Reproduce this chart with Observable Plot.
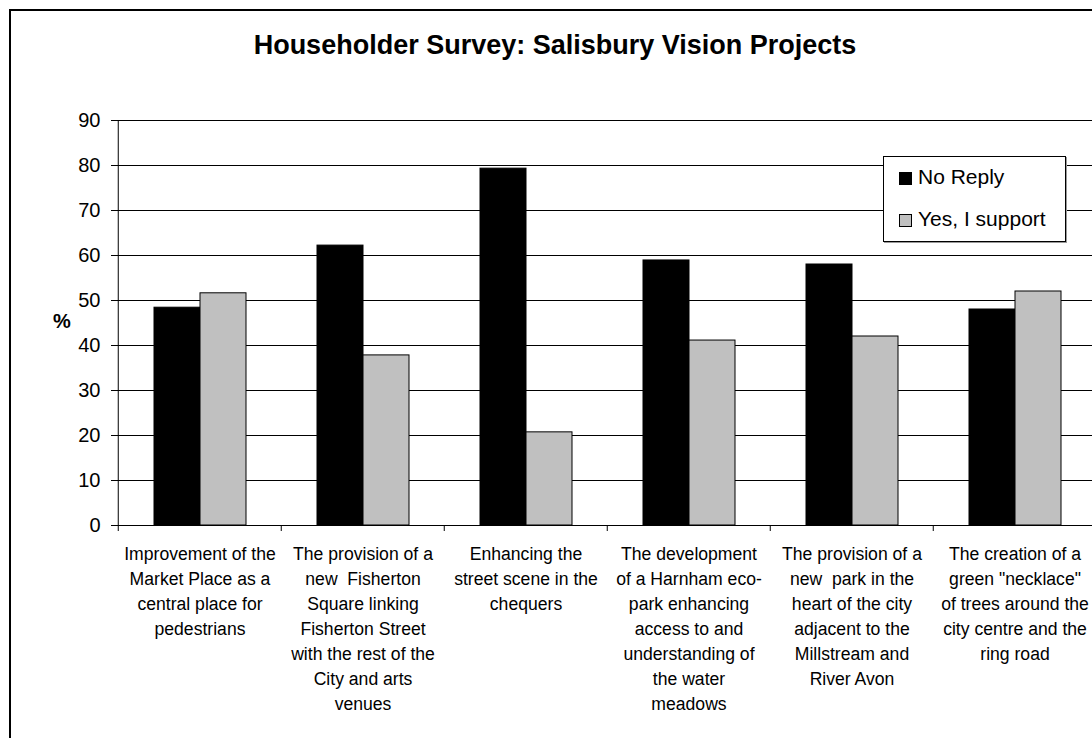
<!DOCTYPE html>
<html>
<head>
<meta charset="utf-8">
<script src="https://cdn.jsdelivr.net/npm/d3@7"></script>
<script src="https://cdn.jsdelivr.net/npm/@observablehq/plot@0.6"></script>
<style>
  html, body { margin: 0; padding: 0; background: #fff; overflow: hidden; }
  #wrap { position: relative; width: 1092px; height: 738px; overflow: hidden; background: #fff;
          font-family: "Liberation Sans", Arial, sans-serif; color: #000; }
  #border { position: absolute; left: 9px; top: 9px; width: 2000px; height: 2000px;
            border-left: 2px solid #000; border-top: 2px solid #000; }
  #title { position: absolute; left: 0; width: 1110px; top: 32px; text-align: center;
           font-weight: bold; font-size: 27px; line-height: 27px; white-space: nowrap; }
  #chart { position: absolute; left: 0; top: 0; }
  #ylabel { position: absolute; left: 53px; top: 308px; font-weight: bold; font-size: 20px; line-height: 26px; }
  #legend { position: absolute; left: 883px; top: 156px; width: 181px; height: 84px;
            border: 1px solid #000; background: #fff; box-shadow: 1px 1px 0 #999; }
  .item { position: absolute; left: 15px; font-size: 21px; line-height: 24px; white-space: nowrap; }
  .sw { display: inline-block; width: 11px; height: 11px; border: 1px solid #000; margin-right: 6px; vertical-align: -1px; }
</style>
</head>
<body>
<div id="wrap">
  <div id="border"></div>
  <div id="title"></div>
  <div id="chart"></div>
  <div id="ylabel"></div>
  <div id="legend"></div>
</div>
<script>
const title = "Householder Survey: Salisbury Vision Projects";
const yLabel = "%";
const categories = [
  "Improvement of the Market Place as a central place for pedestrians",
  "The provision of a new Fisherton Square linking Fisherton Street with the rest of the City and arts venues",
  "Enhancing the street scene in the chequers",
  "The development of a Harnham eco-park enhancing access to and understanding of the water meadows",
  "The provision of a new park in the heart of the city adjacent to the Millstream and River Avon",
  "The creation of a green \"necklace\" of trees around the city centre and the ring road"
];
const tickLabels = [
  "Improvement of the\nMarket Place as a\ncentral place for\npedestrians",
  "The provision of a\nnew  Fisherton\nSquare linking\nFisherton Street\nwith the rest of the\nCity and arts\nvenues",
  "Enhancing the\nstreet scene in the\nchequers",
  "The development\nof a Harnham eco-\npark enhancing\naccess to and\nunderstanding of\nthe water\nmeadows",
  "The provision of a\nnew  park in the\nheart of the city\nadjacent to the\nMillstream and\nRiver Avon",
  "The creation of a\ngreen \"necklace\"\nof trees around the\ncity centre and the\nring road"
];
const series = ["No Reply", "Yes, I support"];
const seriesColors = ["#000000", "#C0C0C0"];
const noReply = [48.4, 62.2, 79.3, 58.9, 58.0, 48.0];
const yesSupport = [51.6, 37.8, 20.7, 41.1, 42.0, 52.0];
const yTicks = [0, 10, 20, 30, 40, 50, 60, 70, 80, 90];

const rows = [];
categories.forEach((c, i) => {
  rows.push({category: c, series: series[0], value: noReply[i]});
  rows.push({category: c, series: series[1], value: yesSupport[i]});
});
const labelOf = new Map(categories.map((c, i) => [c, tickLabels[i]]));

const W = 1100, H = 738, ML = 116, MR = 3, MT = 120, MB = 213;
const step = (W - ML - MR) / categories.length;

const plot = Plot.plot({
  width: W, height: H,
  marginLeft: ML, marginRight: MR, marginTop: MT, marginBottom: MB,
  style: {fontFamily: "'Liberation Sans', Arial, sans-serif", color: "#000", background: "transparent", maxWidth: "none", overflow: "visible"},
  fx: {domain: categories, padding: 0, axis: null},
  x: {domain: series, paddingInner: 0, paddingOuter: 0.74, axis: null},
  y: {domain: [0, 90], axis: null},
  color: {domain: series, range: seriesColors},
  marks: [
    Plot.ruleY(yTicks, {stroke: "#000", strokeWidth: 1}),
    Plot.gridFx({ticks: [categories[0]], dx: -step / 2, stroke: "#000", strokeOpacity: 1, strokeWidth: 1}),
    Plot.barY(rows, {fx: "category", x: "series", y: "value", fill: "series", stroke: "#000", strokeWidth: 1}),
    Plot.axisY({ticks: yTicks, tickSize: 7, tickPadding: 11, fontSize: 20, label: null}),
    Plot.axisFx({anchor: "bottom", tickSize: 0, tickPadding: 17, fontSize: 17.6, lineHeight: 1.42,
                 tickFormat: d => labelOf.get(d), label: null}),
    Plot.axisFx({anchor: "bottom", tickSize: 6, tickFormat: () => "", dx: -step / 2, label: null})
  ]
});
plot.style.maxWidth = "none";
document.getElementById("chart").appendChild(plot);
document.getElementById("title").textContent = title;
document.getElementById("ylabel").textContent = yLabel;

const legend = document.getElementById("legend");
series.forEach((s, i) => {
  const item = document.createElement("div");
  item.className = "item";
  item.style.top = (8 + i * 42) + "px";
  const sw = document.createElement("span");
  sw.className = "sw";
  sw.style.background = seriesColors[i];
  item.appendChild(sw);
  item.appendChild(document.createTextNode(s));
  legend.appendChild(item);
});
</script>
</body>
</html>
